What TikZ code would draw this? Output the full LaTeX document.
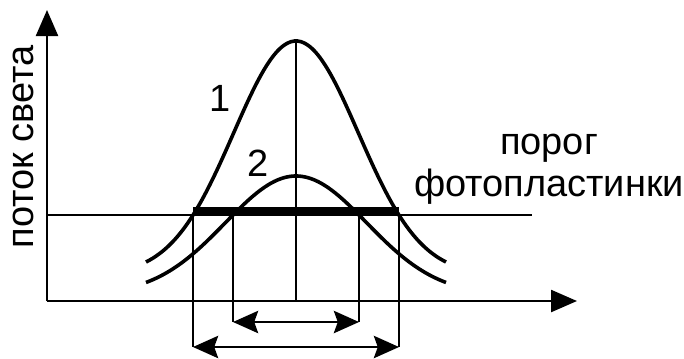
\documentclass[tikz,border=0pt]{standalone}
\usepackage{fontspec}
\setmainfont{Liberation Sans}
\usetikzlibrary{arrows.meta}

\begin{document}
\begin{tikzpicture}[
        x=0.25mm, y=-0.25mm,
        axis/.style={line width=0.6mm, -{Triangle[length=6.5mm, width=5.5mm]}},
        thin/.style={line width=0.45mm},
        curve/.style={line width=0.9mm, smooth},
        bar/.style={line width=2.3mm},
        dim/.style={line width=0.5mm, {Stealth[length=6.3mm, width=5.6mm, inset=1mm]}-{Stealth[length=6.3mm, width=5.6mm, inset=1mm]}},
        lbl/.style={font=\fontsize{27}{10.5mm}\selectfont, inner sep=0pt}]

        \useasboundingbox (0,0) rectangle (684,358);

        % точки
        \coordinate (o)    at (47,301);
        \coordinate (ytip) at (47,10);
        \coordinate (xtip) at (577,301);
        \coordinate (thl)  at (47,215);
        \coordinate (thr)  at (532,215);
        \coordinate (top)  at (296,41);
        \coordinate (bot)  at (296,301);
        \coordinate (a1) at (193,215);
        \coordinate (b1) at (399,215);
        \coordinate (a2) at (233,215);
        \coordinate (b2) at (359,215);
        \coordinate (a1d) at (193,347);
        \coordinate (b1d) at (399,347);
        \coordinate (a2d) at (233,322);
        \coordinate (b2d) at (359,322);

        % оси
        \draw[axis] (o) -- (ytip);
        \draw[axis] (o) -- (xtip);

        % порог и засвеченный участок
        \draw[thin] (thl) -- (thr);
        \draw[bar] ([yshift=2.5]a1) -- ([yshift=2.5]b1);
        \draw[thin] (top) -- (bot);

        % кривые 1 и 2
        \draw[curve] plot[domain=-150:150, samples=90]
            ({296+\x}, {275-234*exp(-0.5*(\x/62.4)^2)});
        \draw[curve] plot[domain=-150:150, samples=90]
            ({296+\x}, {295-119*exp(-0.5*(\x/70.7)^2)});

        % выносные линии
        \draw[thin] (a1) -- (a1d);
        \draw[thin] (b1) -- (b1d);
        \draw[thin] (a2) -- (a2d);
        \draw[thin] (b2) -- (b2d);

        % размеры
        \draw[dim] (a2d) -- (b2d);
        \draw[dim] (a1d) -- (b1d);

        % подписи
        \node[lbl] (n1) at (220,98)  {1};
        \node[lbl] (n2) at (258,163) {2};
        \node[lbl, rotate=90] (flux) at (23,147) {поток света};
        \node[lbl, align=center] (thlbl) at (549,169) {порог\\фотопластинки};
    \end{tikzpicture}
\end{document}
